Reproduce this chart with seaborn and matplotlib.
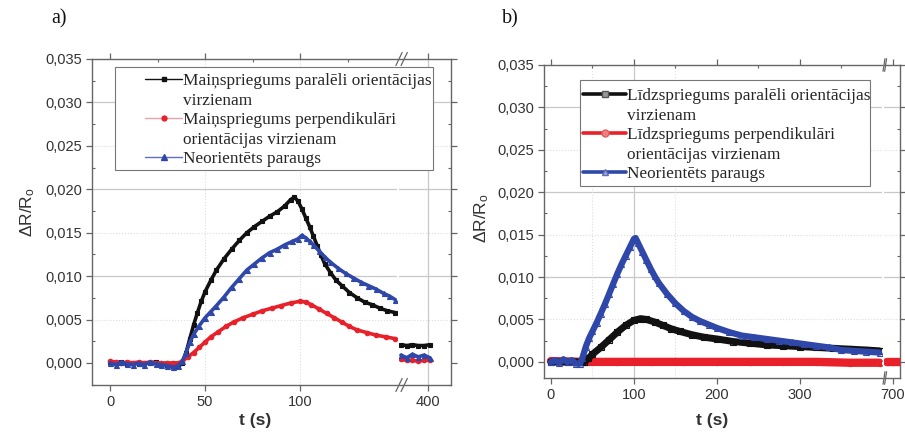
import matplotlib
matplotlib.use("Agg")
import matplotlib.pyplot as plt
import matplotlib.ticker as mticker
from matplotlib.lines import Line2D
from matplotlib.patches import Rectangle
import numpy as np
import pandas as pd
import seaborn as sns

# ---------------- data: panel a (AC voltage) ----------------
a_par_t = [0, 3, 6, 9, 12, 15, 18, 21, 24, 27, 30, 33, 36, 38, 40, 42, 44, 46, 48, 50,
           53, 56, 60, 64, 68, 72, 76, 80, 84, 88, 92, 95, 97, 99, 101, 103, 105, 107,
           109, 111, 113, 116, 119, 122, 126, 130, 134, 138, 142, 146, 150]
a_par_v = [0.0001, 0.0000, 0.0001, -0.0001, 0.0000, -0.0001, 0.0000, 0.0000, 0.0001,
           -0.0001, -0.0002, -0.0004, -0.0004, 0.0000, 0.0012, 0.0028, 0.0044, 0.0058,
           0.0071, 0.0082, 0.0095, 0.0107, 0.0120, 0.0131, 0.0141, 0.0150, 0.0157,
           0.0163, 0.0169, 0.0174, 0.0181, 0.0188, 0.0191, 0.0186, 0.0177, 0.0167,
           0.0157, 0.0146, 0.0135, 0.0124, 0.0114, 0.0104, 0.0095, 0.0089, 0.0081,
           0.0075, 0.0070, 0.0067, 0.0063, 0.0060, 0.0058]

a_perp_t = [0, 3, 6, 9, 12, 15, 18, 21, 24, 27, 30, 33, 36, 38, 41, 44, 47, 50, 53, 57,
            61, 65, 70, 75, 80, 85, 90, 95, 100, 103, 106, 110, 114, 118, 122, 126, 130,
            135, 140, 145, 150]
a_perp_v = [0.0002, 0.0001, 0.0000, 0.0001, 0.0000, 0.0001, 0.0000, 0.0001, 0.0000,
            0.0000, 0.0000, 0.0000, 0.0000, 0.0002, 0.0007, 0.0012, 0.0018, 0.0024,
            0.0030, 0.0036, 0.0042, 0.0047, 0.0052, 0.0056, 0.0060, 0.0063, 0.0066,
            0.0069, 0.0071, 0.0070, 0.0067, 0.0062, 0.0057, 0.0052, 0.0047, 0.0042,
            0.0038, 0.0035, 0.0032, 0.0030, 0.0028]

a_none_t = [0, 3, 6, 9, 12, 15, 18, 21, 24, 27, 30, 33, 36, 38, 40, 42, 44, 47, 50, 53,
            56, 60, 64, 68, 72, 76, 80, 84, 88, 92, 96, 99, 101, 103, 105, 107, 110, 113,
            116, 120, 124, 128, 132, 136, 140, 144, 147, 150]
a_none_v = [0.0000, -0.0002, 0.0001, -0.0001, -0.0002, 0.0000, -0.0002, 0.0001, -0.0001,
            -0.0002, -0.0003, -0.0005, -0.0003, 0.0002, 0.0012, 0.0024, 0.0033, 0.0043,
            0.0052, 0.0059, 0.0066, 0.0076, 0.0087, 0.0097, 0.0107, 0.0114, 0.0121,
            0.0127, 0.0131, 0.0136, 0.0140, 0.0143, 0.0147, 0.0144, 0.0140, 0.0136,
            0.0129, 0.0122, 0.0116, 0.0109, 0.0103, 0.0098, 0.0093, 0.0089, 0.0085,
            0.0080, 0.0077, 0.0073]

# late readings after the axis break
a_late_t = [386, 389, 392, 395, 398, 401]
a_late_par = [0.0021, 0.0020, 0.0021, 0.0020, 0.0020, 0.0021]
a_late_perp = [0.0004, 0.0003, 0.0003, 0.0002, 0.0003, 0.0003]
a_late_none = [0.0009, 0.0006, 0.0010, 0.0007, 0.0009, 0.0006]

# ---------------- data: panel b (DC voltage) ----------------
b_par_t = [0, 20, 40, 45, 50, 60, 70, 80, 90, 100, 108, 115, 125, 135, 145, 155, 170,
           185, 200, 220, 240, 260, 280, 300, 320, 340, 360, 380, 396]
b_par_v = [0.0000, 0.0000, 0.0000, 0.0004, 0.0009, 0.0017, 0.0026, 0.0035, 0.0043,
           0.0049, 0.0051, 0.0050, 0.0047, 0.0043, 0.0039, 0.0036, 0.0032, 0.0029,
           0.0027, 0.0024, 0.0022, 0.0020, 0.0019, 0.0018, 0.0017, 0.0016, 0.0015,
           0.0014, 0.0013]

b_perp_t = [0, 40, 80, 120, 160, 200, 240, 280, 320, 360, 396]
b_perp_v = [0.0001, 0.0000, 0.0000, 0.0000, 0.0000, 0.0000, 0.0000, 0.0000, 0.0000,
            -0.0001, -0.0001]

b_none_t = [0, 5, 10, 15, 20, 25, 30, 35, 38, 42, 46, 50, 55, 60, 65, 70, 75, 80, 85,
            90, 95, 100, 102, 105, 110, 115, 120, 125, 130, 140, 150, 160, 170, 180,
            190, 200, 215, 230, 245, 260, 275, 290, 305, 320, 335, 350, 365, 380, 396]
b_none_v = [0.0000, 0.0002, -0.0001, 0.0003, 0.0000, 0.0002, -0.0002, -0.0002, 0.0005,
            0.0018, 0.0028, 0.0036, 0.0046, 0.0057, 0.0068, 0.0080, 0.0092, 0.0104,
            0.0115, 0.0125, 0.0135, 0.0145, 0.0146, 0.0140, 0.0130, 0.0120, 0.0110,
            0.0101, 0.0093, 0.0080, 0.0069, 0.0060, 0.0053, 0.0048, 0.0044, 0.0040,
            0.0035, 0.0031, 0.0029, 0.0027, 0.0025, 0.0023, 0.0021, 0.0019, 0.0017,
            0.0014, 0.0013, 0.0012, 0.0011]

b_late_t = [696, 700, 705]
b_late_perp = [0.0000, 0.0000, 0.0000]

labels_a = ["Maiņspriegums paralēli orientācijas\nvirzienam",
            "Maiņspriegums perpendikulāri\norientācijas virzienam",
            "Neorientēts paraugs"]
labels_b = ["Līdzspriegums paralēli orientācijas\nvirzienam",
            "Līdzspriegums perpendikulāri\norientācijas virzienam",
            "Neorientēts paraugs"]

y_ticks = [0.000, 0.005, 0.010, 0.015, 0.020, 0.025, 0.030, 0.035]

# ---------------- styling ----------------
sns.set_theme(style="white")
plt.rcParams["font.family"] = ["Liberation Sans", "DejaVu Sans"]
plt.rcParams["mathtext.default"] = "regular"

BLACK, RED, BLUE = "#111111", "#e8202a", "#2f47a8"
SPINE = "#666666"
TICKC = "#333333"

W, H = 905, 432
fig = plt.figure(figsize=(W / 100, H / 100), dpi=100)


def px_axes(x0, x1, y0, y1):
    """Axes given in pixel coordinates (top-left origin)."""
    return fig.add_axes([x0 / W, 1 - y1 / H, (x1 - x0) / W, (y1 - y0) / H])


def fx(x):
    return x / W


def fy(y):
    return 1 - y / H


comma = mticker.FuncFormatter(lambda v, p: f"{v:.3f}".replace(".", ","))


def style_axes(ax, ymin, left_side, right_side):
    ax.set_ylim(ymin, 0.035)
    ax.yaxis.set_major_locator(mticker.FixedLocator(y_ticks))
    ax.yaxis.set_minor_locator(mticker.MultipleLocator(0.0025))
    ax.yaxis.set_major_formatter(comma)
    for s in ax.spines.values():
        s.set_color(SPINE)
        s.set_linewidth(1.0)
    ax.spines["right"].set_visible(right_side)
    ax.spines["left"].set_visible(left_side)
    ax.tick_params(axis="both", which="major", direction="out", length=4, width=0.9,
                   color=SPINE, labelsize=10.5, labelcolor=TICKC, pad=3)
    ax.tick_params(axis="both", which="minor", direction="in", length=2.5, width=0.8,
                   color=SPINE)
    ax.tick_params(axis="y", which="both", left=left_side, labelleft=left_side,
                   right=right_side)
    ax.tick_params(axis="x", which="both", direction="in", top=True, bottom=False)
    ax.tick_params(axis="x", which="major", bottom=True, direction="out")
    # horizontal grid: solid on every 0.01, dotted in between
    for yv in y_ticks[1:]:
        solid = abs(round(yv / 0.01) * 0.01 - yv) < 1e-9
        ax.axhline(yv, color="#c8c8c8" if solid else "#dddddd",
                   lw=0.9 if solid else 0.8, ls="-" if solid else ":", zorder=0)


def series(ax, t, v, color, marker, mfc, lw, ms, mew=0.8):
    df = pd.DataFrame({"t": t, "v": v})
    sns.lineplot(data=df, x="t", y="v", ax=ax, color=color, lw=lw, marker=marker,
                 markersize=ms, markerfacecolor=mfc, markeredgecolor=color,
                 markeredgewidth=mew, estimator=None, sort=False, legend=False,
                 zorder=3)
    ax.set_xlabel("")
    ax.set_ylabel("")


def break_marks(ax_right):
    for yb in (0.0, 1.0):
        for x0 in (-0.06, 0.04):
            ax_right.plot([x0, x0 + 0.12], [yb - 0.02, yb + 0.02],
                          transform=ax_right.transAxes, color=SPINE, lw=0.9,
                          clip_on=False, zorder=10)


def legend_block(handles, labels, x_handle, y_top, box, hlen):
    """Legend whose handle sits on the first line of each entry, on a white box."""
    hh, ll = [], []
    for h, lab in zip(handles, labels):
        parts = lab.split("\n")
        hh.append(h)
        ll.append(parts[0])
        for extra in parts[1:]:
            hh.append(Line2D([], [], color="none", lw=0))
            ll.append(extra)
    bx0, by0, bx1, by1 = box
    rect = Rectangle((fx(bx0), fy(by1)), fx(bx1) - fx(bx0), fy(by0) - fy(by1),
                     transform=fig.transFigure, facecolor="white",
                     edgecolor="#777777", lw=0.8, zorder=15)
    fig.add_artist(rect)
    leg = fig.legend(hh, ll, loc="upper left", bbox_to_anchor=(fx(x_handle), fy(y_top)),
                     bbox_transform=fig.transFigure,
                     prop={"family": "Liberation Serif", "size": 12.4},
                     frameon=False, borderpad=0, handlelength=hlen,
                     handletextpad=0.05, labelspacing=0.2, borderaxespad=0)
    leg.set_zorder(20)
    return leg


# ================= panel a =================
axA = px_axes(92, 397, 59, 385)
axA2 = px_axes(399, 451, 59, 385)
yminA = -0.00254
style_axes(axA, yminA, True, False)
style_axes(axA2, yminA, False, True)
axA.set_xlim(-9.5, 151)
axA.xaxis.set_major_locator(mticker.FixedLocator([0, 50, 100]))
axA.xaxis.set_minor_locator(mticker.FixedLocator([25, 75, 125]))
for xv in (50, 100):
    axA.axvline(xv, color="#dddddd", lw=0.8, ls=":", zorder=0)
axA2.set_xlim(385, 412)
axA2.xaxis.set_major_locator(mticker.FixedLocator([400]))
axA2.xaxis.set_minor_locator(mticker.NullLocator())
axA2.axvline(400, color="#c8c8c8", lw=0.9, zorder=0)

series(axA, a_par_t, a_par_v, BLACK, "s", BLACK, 2.6, 3.2)
series(axA, a_perp_t, a_perp_v, RED, "o", RED, 2.6, 3.2)
series(axA, a_none_t, a_none_v, BLUE, "^", BLUE, 2.6, 3.6)
series(axA2, a_late_t, a_late_par, BLACK, "s", BLACK, 2.6, 3.2)
series(axA2, a_late_t, a_late_perp, RED, "o", RED, 2.6, 3.2)
series(axA2, a_late_t, a_late_none, BLUE, "^", BLUE, 2.6, 3.6)
break_marks(axA2)

hA = [Line2D([], [], color=BLACK, lw=1.0, marker="s", ms=3.5),
      Line2D([], [], color="#f0a0a8", lw=1.0, marker="o", ms=3.5,
             markerfacecolor=RED, markeredgecolor=RED),
      Line2D([], [], color="#6070b8", lw=1.0, marker="^", ms=4,
             markerfacecolor=BLUE, markeredgecolor=BLUE)]
legend_block(hA, labels_a, 145, 73, (115, 67, 433, 170), 2.15)

# ================= panel b =================
axB = px_axes(544, 882, 65, 378)
axB2 = px_axes(884, 900, 65, 378)
yminB = -0.0019
style_axes(axB, yminB, True, False)
style_axes(axB2, yminB, False, True)
axB.set_xlim(-8.4, 399)
axB.xaxis.set_major_locator(mticker.FixedLocator([0, 100, 200, 300]))
axB.xaxis.set_minor_locator(mticker.FixedLocator([50, 150, 250, 350]))
axB.axvline(100, color="#c8c8c8", lw=0.9, zorder=0)
for xv in (50, 150):
    axB.axvline(xv, color="#dddddd", lw=0.8, ls=":", zorder=0)
axB2.set_xlim(694, 705)
axB2.xaxis.set_major_locator(mticker.FixedLocator([700]))
axB2.xaxis.set_minor_locator(mticker.NullLocator())

series(axB, b_perp_t, b_perp_v, RED, "o", "none", 6.0, 4.5)
series(axB, b_par_t, b_par_v, BLACK, "s", "none", 5.0, 4.5)
series(axB, b_none_t, b_none_v, BLUE, "^", "none", 4.5, 5.0)
series(axB2, b_late_t, b_late_perp, RED, "o", "none", 6.0, 4.5)
break_marks(axB2)

hB = [Line2D([], [], color=BLACK, lw=2.6, marker="s", ms=5, markerfacecolor="#999999",
             markeredgecolor="#555555"),
      Line2D([], [], color=RED, lw=2.6, marker="o", ms=5, markerfacecolor="#f08080",
             markeredgecolor="#e06060"),
      Line2D([], [], color=BLUE, lw=2.6, marker="^", ms=5, markerfacecolor="#a0a8d8",
             markeredgecolor="#6070b8")]
legend_block(hB, labels_b, 583, 88, (580, 80, 870, 186), 2.5)

# ================= labels =================
fig.text(fx(28), fy(212), "ΔR/R$_{o}$", rotation=90, ha="center", va="center",
         fontsize=12.5, color=TICKC)
fig.text(fx(482), fy(218), "ΔR/R$_{o}$", rotation=90, ha="center", va="center",
         fontsize=12.5, color=TICKC)
fig.text(fx(255), fy(420), "t (s)", ha="center", va="center", fontsize=12.5,
         fontweight="bold", color=TICKC)
fig.text(fx(712), fy(420), "t (s)", ha="center", va="center", fontsize=12.5,
         fontweight="bold", color=TICKC)
fig.text(fx(59), fy(19), "a)", ha="center", va="center", fontsize=14.5,
         family="Liberation Serif", color="#111111")
fig.text(fx(510), fy(19), "b)", ha="center", va="center", fontsize=14.5,
         family="Liberation Serif", color="#111111")

fig.savefig("out.png", dpi=100, facecolor="white")
